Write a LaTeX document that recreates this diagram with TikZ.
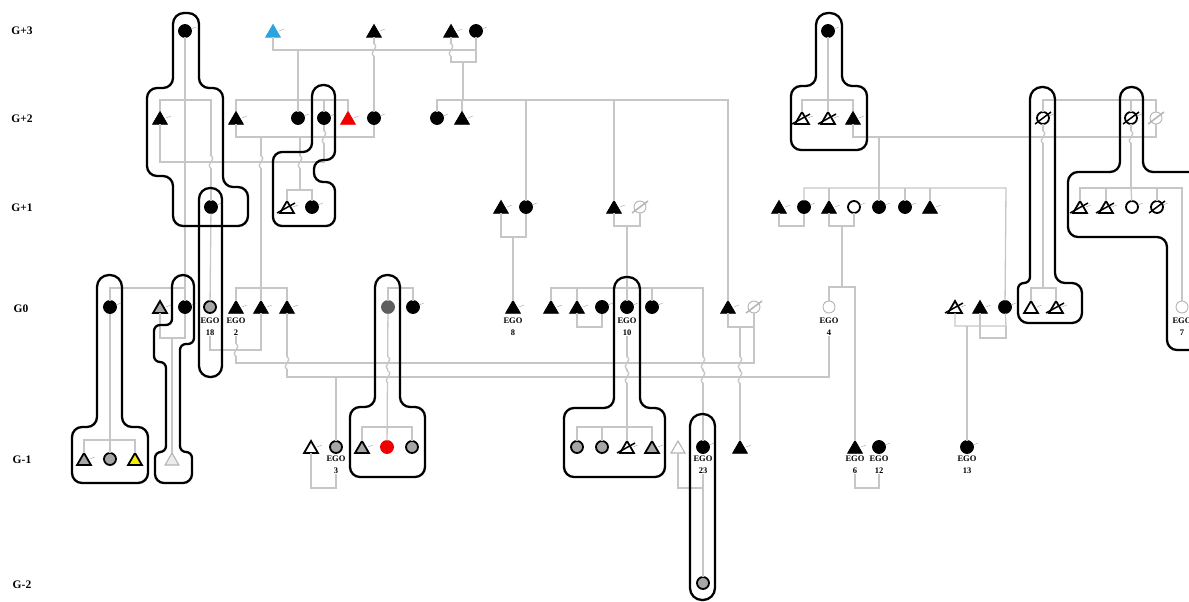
\documentclass[tikz,border=0pt]{standalone}
\usepackage{fontspec}
\setmainfont{Liberation Serif}
\usetikzlibrary{shapes.geometric}
\definecolor{lg}{HTML}{C6C6C6}
\definecolor{gf}{HTML}{A6A6A6}
\definecolor{dg}{HTML}{5E5E5E}
\definecolor{bl}{HTML}{2BA3DE}
\definecolor{rd}{HTML}{F00000}
\definecolor{yl}{HTML}{F2EE00}
\definecolor{lo}{HTML}{B4B4B4}
\newcommand\wig[2]{%
  \fill[white] (#1-2.2,#2-6) rectangle (#1+2.2,#2+6);
  \draw[ln] (#1,#2-6) .. controls (#1+6,#2-3) and (#1-6,#2+3) .. (#1,#2+6);
  \draw[ln] (#1-3,#2) -- (#1+3,#2);}
\newcommand\strkt[2][black]{\draw[#1,line width=1.5pt] ([shift={(-10,4)}]#2.center) -- ([shift={(8,-6)}]#2.center);}
\newcommand\strkc[2][black]{\draw[#1,line width=1.5pt] ([shift={(-8,6)}]#2.center) -- ([shift={(8,-6)}]#2.center);}
\begin{document}
\begin{tikzpicture}[x=1pt,y=-1pt,
  ln/.style={draw=lg,line width=1.3pt},
  hull/.style={draw=black,line width=2.3pt,rounded corners=10pt},
  tk/.style={draw=gray!60,line width=0.5pt},
  sym/.style={inner sep=0pt,outer sep=0pt,line width=0.8pt},
  tri/.style={sym,regular polygon,regular polygon sides=3,minimum size=17pt,yshift=-2pt,draw=black,fill=black},
  cir/.style={sym,circle,minimum size=13pt,draw=black,fill=black},
  otri/.style={tri,fill=white,line width=1.8pt,minimum size=16pt},
  ocir/.style={cir,fill=white,line width=1.8pt,minimum size=12pt},
  gtri/.style={otri,fill=gf},
  gcir/.style={ocir,fill=gf},
  lcir/.style={cir,fill=white,draw=lo,line width=0.9pt,minimum size=12pt},
  ltri/.style={tri,fill=white,draw=lo,line width=1.1pt,minimum size=16pt},
  ego/.style={font=\fontsize{8.5}{12}\selectfont\bfseries,align=center,inner sep=0pt},
  rowl/.style={font=\fontsize{11.5}{13}\selectfont\bfseries,inner sep=0pt}]
\useasboundingbox (0,0) rectangle (1189,602);
\clip (0,0) rectangle (1189,602);
% row labels
\node[rowl] (g3) at (22,31) {G+3};
\node[rowl] (g2) at (22,119) {G+2};
\node[rowl] (g1) at (22,208) {G+1};
\node[rowl] (g0) at (21,309) {G0};
\node[rowl] (gm1) at (22,460) {G-1};
\node[rowl] (gm2) at (22,585) {G-2};
% G+3
\node[cir] (A1) at (185,31) {};
\node[tri,fill=bl,draw=bl] (A2) at (273,31) {};
\node[tri] (A3) at (374,31) {};
\node[tri] (A4) at (451,31) {};
\node[cir] (A5) at (476,31) {};
\node[cir] (A6) at (828,31) {};
% G+2
\node[tri] (B1) at (160,118) {};
\node[tri] (B2) at (236,118) {};
\node[cir] (B3) at (298,118) {};
\node[cir] (B4) at (324,118) {};
\node[tri,fill=rd,draw=rd] (B5) at (348,118) {};
\node[cir] (B6) at (374,118) {};
\node[cir] (B7) at (437,118) {};
\node[tri] (B8) at (462,118) {};
\node[otri] (B9) at (802,118) {};
\node[otri] (B10) at (828,118) {};
\node[tri] (B11) at (853,118) {};
\node[ocir] (B12) at (1043,118) {};
\node[ocir] (B13) at (1131,118) {};
\node[lcir] (B14) at (1156,118) {};
% G+1
\node[cir] (C1) at (211,207) {};
\node[otri] (C2) at (287,207) {};
\node[cir] (C3) at (312,207) {};
\node[tri] (C4) at (501,207) {};
\node[cir] (C5) at (526,207) {};
\node[tri] (C6) at (614,207) {};
\node[lcir] (C7) at (640,207) {};
\node[tri] (C8) at (779,207) {};
\node[cir] (C9) at (804,207) {};
\node[tri] (C10) at (829,207) {};
\node[ocir] (C11) at (854,207) {};
\node[cir] (C12) at (879,207) {};
\node[cir] (C13) at (905,207) {};
\node[tri] (C14) at (930,207) {};
\node[otri] (C15) at (1080,207) {};
\node[otri] (C16) at (1106,207) {};
\node[ocir] (C17) at (1132,207) {};
\node[ocir] (C18) at (1157,207) {};
% G0
\node[cir] (D1) at (110,307) {};
\node[gtri] (D2) at (160,307) {};
\node[cir] (D3) at (185,307) {};
\node[gcir] (D4) at (210,307) {};
\node[tri] (D5) at (236,307) {};
\node[tri] (D6) at (261,307) {};
\node[tri] (D7) at (287,307) {};
\node[cir,fill=dg,draw=dg] (D8) at (388,307) {};
\node[cir] (D9) at (413,307) {};
\node[tri] (D10) at (513,307) {};
\node[tri] (D11) at (551,307) {};
\node[tri] (D12) at (577,307) {};
\node[cir] (D13) at (602,307) {};
\node[cir] (D14) at (627,307) {};
\node[cir] (D15) at (652,307) {};
\node[tri] (D16) at (728,307) {};
\node[lcir] (D17) at (754,307) {};
\node[lcir] (D18) at (829,307) {};
\node[otri] (D19) at (955,307) {};
\node[tri] (D20) at (980,307) {};
\node[cir] (D21) at (1005,307) {};
\node[otri] (D22) at (1031,307) {};
\node[otri] (D23) at (1056,307) {};
\node[lcir] (D24) at (1182,307) {};
% G-1
\node[gtri] (E1) at (84,459) {};
\node[gcir] (E2) at (110,459) {};
\node[otri,fill=yl] (E3) at (135,459) {};
\node[ltri,fill=gray!15] (E4) at (172,459) {};
\node[otri] (E5) at (311,447) {};
\node[gcir] (E6) at (336,447) {};
\node[gtri] (E7) at (362,447) {};
\node[cir,fill=rd,draw=rd] (E8) at (387,447) {};
\node[gcir] (E9) at (412,447) {};
\node[gcir] (E10) at (577,447) {};
\node[gcir] (E11) at (602,447) {};
\node[otri] (E12) at (627,447) {};
\node[gtri] (E13) at (652,447) {};
\node[ltri] (E14) at (678,447) {};
\node[cir] (E15) at (703,447) {};
\node[tri] (E16) at (740,447) {};
\node[tri] (E17) at (855,447) {};
\node[cir] (E18) at (879,447) {};
\node[cir] (E19) at (967,447) {};
% G-2
\node[gcir] (F1) at (703,583) {};
% strikes
\strkt{B9}\strkt{B10}\strkc{B12}\strkc{B13}\strkc[lo]{B14}
\strkt{C2}\strkc[lo]{C7}\strkt{C15}\strkt{C16}\strkc{C18}
\strkc[lo]{D17}\strkt{D19}\strkt{D23}\strkt{E12}
% EGO labels
\node[ego] (D4l) at (210,327) {EGO\\18};
\node[ego] (D5l) at (236,327) {EGO\\2};
\node[ego] (D10l) at (513,327) {EGO\\8};
\node[ego] (D14l) at (627,327) {EGO\\10};
\node[ego] (D18l) at (829,327) {EGO\\4};
\node[ego] (D24l) at (1182,327) {EGO\\7};
\node[ego] (E6l) at (336,465) {EGO\\3};
\node[ego] (E15l) at (703,465) {EGO\\23};
\node[ego] (E17l) at (855,465) {EGO\\6};
\node[ego] (E18l) at (879,465) {EGO\\12};
\node[ego] (E19l) at (967,465) {EGO\\13};
% ticks
\foreach \n in {A1,A2,A3,A4,A5,A6,B1,B2,B3,B4,B5,B6,B7,B8,B9,B10,B11,B12,B13,C1,C2,C3,C4,C5,C6,C8,C9,C10,C11,C12,C13,C14,C15,C16,C17,C18,D1,D2,D3,D5,D6,D7,D9,D10,D11,D12,D13,D14,D15,D16,D19,D20,D21,D22,D23,E1,E5,E7,E12,E13,E15,E16,E17,E18,E19}
  \draw[tk] ([shift={(6,-2)}]\n.center) -- ++(5,-2);
% ---------- connectors ----------
\draw[ln] (A1) -- (D3);
\draw[ln] (B1) -- (160,100) -- (211,100) -- (C1);
\draw[ln] (D1) -- (110,288) -- (185,288);
\draw[ln] (D1) -- (E2);
\draw[ln] (E1) -- (84,440) -- (135,440) -- (E3);
\draw[ln] (B1) -- (160,162) -- (324,162) -- (B4);
\draw[ln] (A2) -- (273,50) -- (476,50);
\draw[ln] (A4) -- (451,62) -- (476,62) -- (A5);
\draw[ln] (463,62) -- (463,100);
\draw[ln] (B7) -- (437,100) -- (728,100) -- (D16);
\draw[ln] (462,100) -- (B8);
\draw[ln] (526,100) -- (C5);
\draw[ln] (614,100) -- (C6);
\draw[ln] (A3) -- (B6);
\draw[ln] (298,50) -- (B3);
\draw[ln] (B2) -- (236,100) -- (348,100) -- (B5);
\draw[ln] (324,100) -- (B4);
\draw[ln] (B2) -- (236,137) -- (374,137) -- (B6);
\draw[ln] (261,137) -- (261,288);
\draw[ln] (D5) -- (236,288) -- (287,288) -- (D7);
\draw[ln] (261,288) -- (D6);
\draw[ln] (300,137) -- (300,190);
\draw[ln] (C2) -- (287,190) -- (312,190) -- (C3);
\draw[ln] (C1) -- (D4);
\draw[ln] (D2) -- (160,338) -- (185,338) -- (D3);
\draw[ln] (172,338) -- (E4);
\draw[ln] (D4l.south) -- (210,350) -- (261,350) -- (D6);
\draw[ln] (D5l.south) -- (236,363) -- (754,363) -- (754,327);
\draw[ln] (D16) -- (728,327) -- (754,327) -- (D17);
\draw[ln] (740,327) -- (E16);
\draw[ln] (D7) -- (287,377) -- (829,377) -- (D18l.south);
\draw[ln] (336,377) -- (E6);
\draw[ln] (E5) -- (311,488) -- (336,488) -- (E6l.south);
\draw[ln] (D8) -- (388,288) -- (413,288) -- (D9);
\draw[ln] (D8) -- (E8);
\draw[ln] (E7) -- (362,427) -- (412,427) -- (E9);
\draw[ln] (C4) -- (501,237) -- (526,237) -- (C5);
\draw[ln] (513,237) -- (D10);
\draw[ln] (C6) -- (614,226) -- (640,226) -- (C7);
\draw[ln] (627,226) -- (627,288);
\draw[ln] (D11) -- (551,288) -- (703,288) -- (E15);
\draw[ln] (577,288) -- (D12);
\draw[ln] (627,288) -- (D14);
\draw[ln] (652,288) -- (D15);
\draw[ln] (D12) -- (577,327) -- (602,327) -- (D13);
\draw[ln] (D14l.south) -- (627,427);
\draw[ln] (E10) -- (577,427) -- (652,427) -- (E13);
\draw[ln] (602,427) -- (E11);
\draw[ln] (627,427) -- (E12);
\draw[ln] (E14) -- (678,488) -- (703,488);
\draw[ln] (E15l.south) -- (F1);
\draw[ln] (A6) -- (828,100);
\draw[ln] (B9) -- (802,100) -- (853,100) -- (B11);
\draw[ln] (828,100) -- (B10);
\draw[ln] (B11) -- (853,137) -- (1156,137) -- (B14);
\draw[ln] (B12) -- (1043,100) -- (1156,100) -- (B14);
\draw[ln] (1131,100) -- (B13);
\draw[ln] (879,137) -- (879,188);
\draw[ln] (C9) -- (804,188) -- (1006,188) -- (D21);
\draw[ln] (829,188) -- (C10);
\draw[ln] (879,188) -- (C12);
\draw[ln] (905,188) -- (C13);
\draw[ln] (930,188) -- (C14);
\draw[ln] (C8) -- (779,226) -- (804,226) -- (C9);
\draw[ln] (C10) -- (829,226) -- (854,226) -- (C11);
\draw[ln] (842,226) -- (842,287);
\draw[ln] (D18) -- (829,287) -- (855,287) -- (E17);
\draw[ln] (E17l.south) -- (855,488) -- (879,488) -- (E18l.south);
\draw[ln] (D19) -- (955,326) -- (1006,326) -- (D21);
\draw[ln] (D20) -- (980,338) -- (1006,338) -- (1006,326);
\draw[ln] (967,326) -- (E19);
\draw[ln] (B12) -- (1043,288);
\draw[ln] (D22) -- (1031,288) -- (1056,288) -- (D23);
\draw[ln] (B13) -- (1131,188);
\draw[ln] (C15) -- (1080,188) -- (1182,188) -- (D24);
\draw[ln] (1106,188) -- (C16);
\draw[ln] (1131,188) -- (C17);
\draw[ln] (1157,188) -- (C18);
% wiggles
\wig{211}{162}\wig{261}{162}\wig{300}{162}\wig{324}{137}
\wig{374}{50}\wig{451}{50}\wig{236}{350}\wig{287}{363}
\wig{388}{363}\wig{388}{377}\wig{627}{363}\wig{627}{377}
\wig{703}{363}\wig{703}{377}\wig{740}{363}\wig{740}{377}
\wig{1043}{137}\wig{1131}{137}
% ---------- hulls ----------
\draw[hull,rounded corners=11pt] (173,60) -- (173,13) -- (199,13) [rounded corners=10pt] -- (199,88) -- (223,88) -- (223,187) -- (248,187) -- (248,226) -- (173,226) -- (173,176) -- (147,176) -- (147,88) -- (173,88) -- cycle;
\draw[hull,rounded corners=11pt] (312,110) -- (312,85) -- (335,85) [rounded corners=9pt] -- (335,160) -- (314,160) -- (314,182) -- (335,182) -- (335,226) -- (273,226) -- (273,152) -- (312,152) -- cycle;
\draw[hull,rounded corners=11pt] (199,188) rectangle (222,377);
\draw[hull,rounded corners=12pt] (97,300) -- (97,275) -- (122,275) [rounded corners=10pt] -- (122,427) -- (148,427) -- (148,483) -- (72,483) -- (72,427) -- (97,427) -- cycle;
\draw[hull,rounded corners=11pt] (172,300) -- (172,275) -- (194,275) [rounded corners=6pt] -- (194,344) -- (180,344) -- (180,452) -- (192,452) [rounded corners=9pt] -- (192,483) -- (155,483) [rounded corners=6pt] -- (155,452) -- (166,452) -- (166,362) -- (154,362) -- (154,325) -- (172,325) -- cycle;
\draw[hull,rounded corners=12pt] (375,300) -- (375,275) -- (400,275) [rounded corners=10pt] -- (400,407) -- (425,407) -- (425,477) -- (350,477) -- (350,407) -- (375,407) -- cycle;
\draw[hull,rounded corners=12pt] (614,300) -- (614,277) -- (640,277) [rounded corners=10pt] -- (640,408) -- (665,408) -- (665,477) -- (564,477) -- (564,408) -- (614,408) -- cycle;
\draw[hull,rounded corners=12pt] (690,414) rectangle (715,600);
\draw[hull,rounded corners=12pt] (816,40) -- (816,13) -- (842,13) [rounded corners=10pt] -- (842,86) -- (867,86) -- (867,150) -- (791,150) -- (791,86) -- (816,86) -- cycle;
\draw[hull,rounded corners=12pt] (1030,110) -- (1030,87) -- (1055,87) [rounded corners=10pt] -- (1055,283) -- (1082,283) -- (1082,323) -- (1018,323) [rounded corners=6pt] -- (1018,283) -- (1030,283) -- cycle;
\draw[hull,rounded corners=11pt] (1120,110) -- (1120,87) -- (1143,87) [rounded corners=10pt] -- (1143,172) -- (1210,172) -- (1210,350) -- (1167,350) -- (1167,237) -- (1068,237) -- (1068,172) -- (1120,172) -- cycle;
\end{tikzpicture}
\end{document}
